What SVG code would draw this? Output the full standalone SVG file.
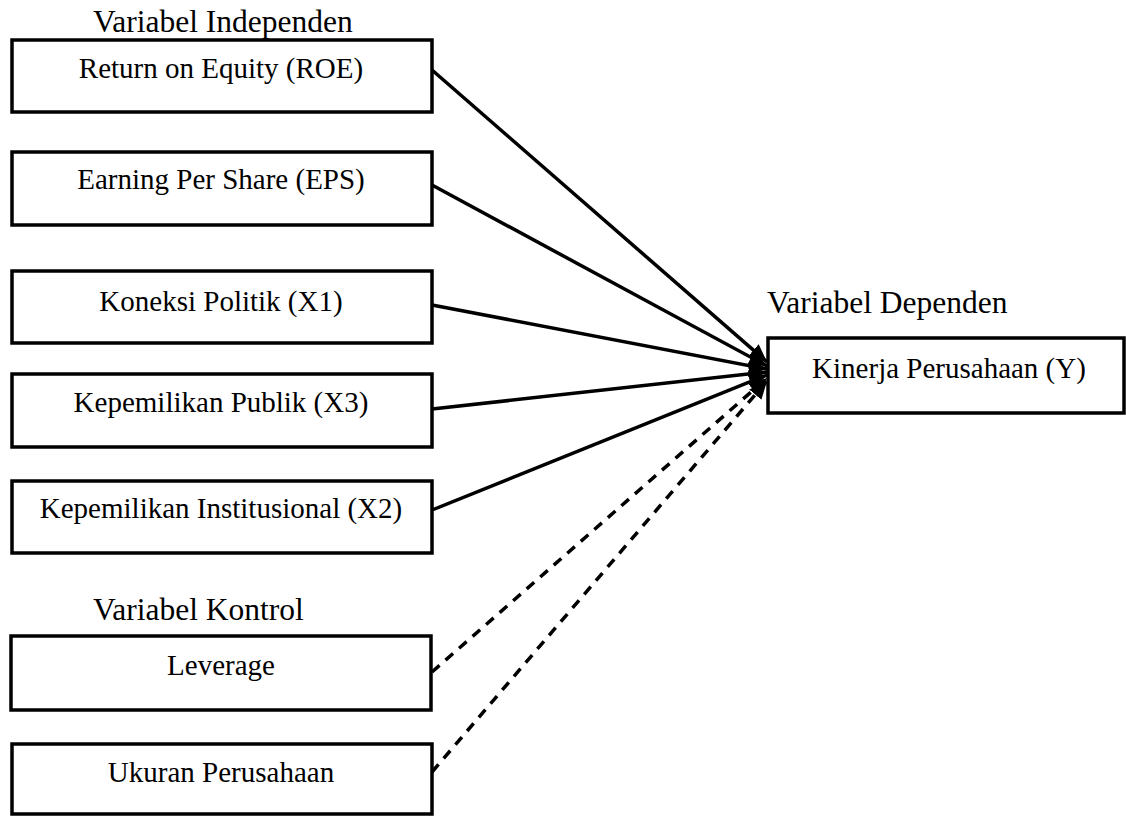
<svg xmlns="http://www.w3.org/2000/svg" width="1126" height="816" viewBox="0 0 1126 816">
<style>
.box{fill:#fff;stroke:#000;stroke-width:3.5}
.t{font-family:"Liberation Serif","Times New Roman",serif;font-size:29px;fill:#000;text-anchor:middle}
.h{font-family:"Liberation Serif","Times New Roman",serif;font-size:31.5px;fill:#000}
.c{stroke:#000;stroke-width:3.5;fill:none}
.d{stroke-dasharray:10 8}
</style>
<defs>
<marker id="ah" markerUnits="userSpaceOnUse" markerWidth="20" markerHeight="16" refX="18" refY="8" orient="auto">
<path d="M0,0 L18,8 L0,16 Z" fill="#000"/>
</marker>
</defs>
<rect width="1126" height="816" fill="#fff"/>
<text class="h" x="93" y="32">Variabel Independen</text>
<text class="h" x="93" y="620">Variabel Kontrol</text>
<text class="h" x="767" y="313">Variabel Dependen</text>
<g id="connectors">
<line class="c" x1="432" y1="70" x2="767" y2="362" marker-end="url(#ah)"/>
<line class="c" x1="432" y1="185" x2="767" y2="366" marker-end="url(#ah)"/>
<line class="c" x1="432" y1="305" x2="767" y2="369" marker-end="url(#ah)"/>
<line class="c" x1="432" y1="409" x2="767" y2="372" marker-end="url(#ah)"/>
<line class="c" x1="432" y1="510" x2="767" y2="375" marker-end="url(#ah)"/>
<line class="c d" x1="432" y1="672" x2="767" y2="378" marker-end="url(#ah)"/>
<line class="c d" x1="432" y1="772" x2="767" y2="381" marker-end="url(#ah)"/>
</g>
<g id="roe"><rect class="box" x="12" y="40" width="420" height="72"/><text class="t" x="221" y="78">Return on Equity (ROE)</text></g>
<g id="eps"><rect class="box" x="12" y="152" width="420" height="73"/><text class="t" x="221" y="189">Earning Per Share (EPS)</text></g>
<g id="x1"><rect class="box" x="12" y="271" width="420" height="72"/><text class="t" x="221" y="311">Koneksi Politik (X1)</text></g>
<g id="x3"><rect class="box" x="12" y="374" width="420" height="73"/><text class="t" x="221" y="412">Kepemilikan Publik (X3)</text></g>
<g id="x2"><rect class="box" x="12" y="481" width="420" height="72"/><text class="t" x="221" y="518">Kepemilikan Institusional (X2)</text></g>
<g id="leverage"><rect class="box" x="11" y="636" width="420" height="74"/><text class="t" x="221" y="675">Leverage</text></g>
<g id="ukuran"><rect class="box" x="12" y="744" width="420" height="70"/><text class="t" x="221" y="782">Ukuran Perusahaan</text></g>
<g id="kinerja"><rect class="box" x="768" y="338" width="356" height="75"/><text class="t" x="949" y="378">Kinerja Perusahaan (Y)</text></g>
</svg>
